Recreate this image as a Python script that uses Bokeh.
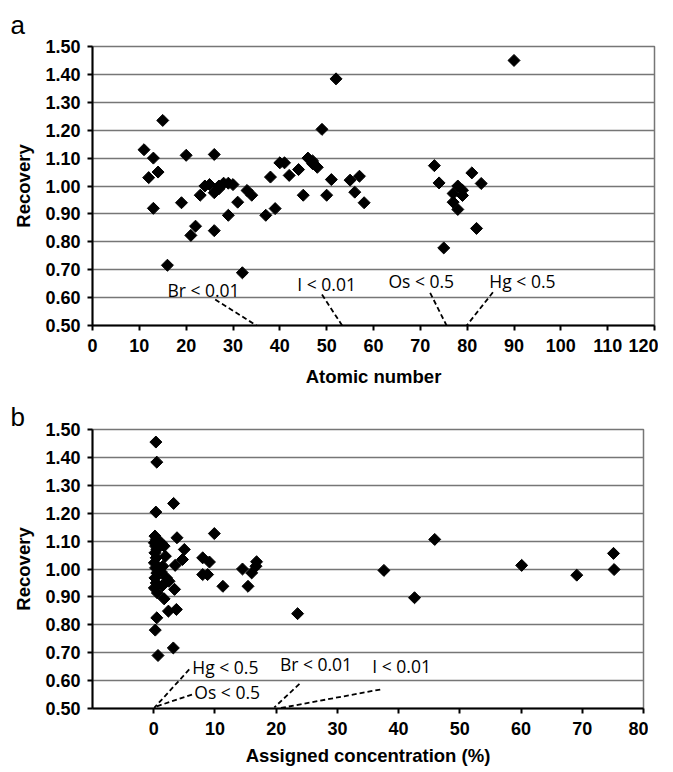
from bokeh.plotting import figure
from bokeh.layouts import column
from bokeh.models import Range1d, FixedTicker, NumeralTickFormatter
from bokeh.core.properties import value
from bokeh.embed import file_html
from bokeh.resources import INLINE

# ---- Panel a: recovery vs atomic number ----
atomic_number = [11, 12, 13, 13, 14, 15, 16, 19, 20, 21, 22, 23, 24, 25, 26, 26, 26, 27, 27,
                 28, 29, 29, 30, 31, 32, 33, 34, 37, 38, 39, 40, 41, 42, 44, 45, 46, 47, 47,
                 48, 49, 50, 51, 52, 55, 56, 57, 58, 73, 74, 75, 77, 77, 78, 78, 79, 79, 81,
                 82, 83, 90]
recovery_a = [1.13, 1.03, 1.10, 0.92, 1.05, 1.235, 0.716, 0.94, 1.11, 0.823, 0.856, 0.967,
              1.00, 1.005, 1.113, 0.84, 0.976, 0.99, 1.00, 1.01, 0.895, 1.01, 1.005, 0.942,
              0.689, 0.984, 0.967, 0.895, 1.032, 0.919, 1.083, 1.083, 1.038, 1.059, 0.967,
              1.10, 1.09, 1.08, 1.067, 1.203, 0.967, 1.023, 1.384, 1.021, 0.978, 1.035, 0.94,
              1.073, 1.011, 0.778, 0.973, 0.942, 1.00, 0.916, 0.985, 0.966, 1.047, 0.848,
              1.009, 1.45]

# ---- Panel b: recovery vs assigned concentration (%) ----
concentration = [0.35, 0.5, 0.35, 3.25, 3.8, 9.9, 5.0, 4.7, 3.5, 8.0, 9.1, 8.0, 8.8, 11.3,
                 14.5, 16.0, 16.7, 16.8, 15.4, 3.4, 1.7, 2.4, 3.7, 0.5, 0.25, 3.2, 0.7, 2.1,
                 2.5, 1.4, 1.2, 1.9, 1.7, 23.5, 37.6, 42.6, 45.9, 60.1, 69.1, 75.1, 75.2,
                 0.2, 0.4, 0.1, 0.3, 0.5, 0.2, 0.4, 0.1, 0.3, 0.5, 0.2, 0.4, 0.1, 0.6, 1.2, 1.5]
recovery_b = [1.455, 1.383, 1.204, 1.235, 1.112, 1.127, 1.07, 1.034, 1.013, 1.04, 1.025, 0.98,
              0.98, 0.938, 1.0, 0.986, 1.01, 1.026, 0.938, 0.927, 0.893, 0.849, 0.855, 0.825,
              0.781, 0.717, 0.69, 0.968, 0.956, 0.94, 1.094, 1.046, 1.082, 0.84, 0.995, 0.897,
              1.106, 1.013, 0.978, 1.056, 0.998,
              1.118, 1.106, 1.094, 1.082, 1.07, 1.058, 1.04, 1.022, 1.004, 0.986, 0.968, 0.95,
              0.932, 0.914, 0.99, 1.01]

x_ticks_a = [0, 10, 20, 30, 40, 50, 60, 70, 80, 90, 100, 110, 120]
x_ticks_b = [0, 10, 20, 30, 40, 50, 60, 70, 80]
y_ticks = [0.5, 0.6, 0.7, 0.8, 0.9, 1.0, 1.1, 1.2, 1.3, 1.4, 1.5]

# annotations (below detection limit)
notes_a = ["Br < 0.01", "I < 0.01", "Os < 0.5", "Hg < 0.5"]
notes_a_x = [23.7, 50.0, 70.2, 91.8]
notes_a_y = [0.629, 0.647, 0.659, 0.659]
leads_a = dict(x0=[26.2, 49.0, 72.1, 85.5], y0=[0.593, 0.611, 0.617, 0.619],
               x1=[35.0, 53.3, 75.6, 79.9], y1=[0.5, 0.5, 0.5, 0.5])

notes_b = ["Hg < 0.5", "Os < 0.5", "Br < 0.01", "I < 0.01"]
notes_b_x = [11.7, 12.0, 26.5, 40.5]
notes_b_y = [0.647, 0.558, 0.658, 0.652]
leads_b = dict(x0=[5.8, 6.25, 23.8, 37.0], y0=[0.640, 0.550, 0.588, 0.568],
               x1=[0.08, 0.25, 19.7, 20.3], y1=[0.502, 0.506, 0.504, 0.500])

AX_FONT = "Liberation Sans"
NOTE_FONT = "Open Sans"


def make_panel(xs, ys, xr, xticks, xlabel, notes, nx, ny, leads, letter, letter_offset,
               letter_standoff, fw, fh, bl, br, bt, bb, label_standoff):
    p = figure(frame_width=fw, frame_height=fh, x_range=Range1d(*xr), y_range=Range1d(0.5, 1.5),
               output_backend="svg", toolbar_location=None,
               min_border_left=bl, min_border_right=br, min_border_top=bt, min_border_bottom=bb)
    p.background_fill_color = "white"
    p.border_fill_color = "white"
    p.outline_line_color = "#767676"
    p.outline_line_width = 1.5
    p.xgrid.grid_line_color = None
    p.ygrid.grid_line_color = "#767676"
    p.ygrid.grid_line_width = 1.6
    p.xaxis.ticker = FixedTicker(ticks=xticks)
    p.yaxis.ticker = FixedTicker(ticks=y_ticks)
    p.yaxis.formatter = NumeralTickFormatter(format="0.00")
    for ax in (p.xaxis[0], p.yaxis[0]):
        ax.axis_line_color = "black"
        ax.axis_line_width = 2
        ax.major_tick_line_color = "black"
        ax.major_tick_line_width = 2
        ax.major_tick_in = 0
        ax.major_tick_out = 5
        ax.minor_tick_line_color = None
        ax.major_label_text_font = AX_FONT
        ax.major_label_text_font_style = "bold"
        ax.major_label_text_font_size = "18px"
        ax.major_label_text_color = "black"
        ax.axis_label_text_font = AX_FONT
        ax.axis_label_text_font_style = "bold"
        ax.axis_label_text_font_size = "18.5px"
        ax.axis_label_text_color = "black"
    p.xaxis.axis_label = xlabel
    p.yaxis.axis_label = "Recovery"
    p.xaxis.major_label_standoff = 8
    p.xaxis.axis_label_standoff = label_standoff
    p.yaxis.major_label_standoff = 7
    p.yaxis.axis_label_standoff = 8

    # panel letter as a left-aligned title pushed into the left margin
    p.title.text = letter
    p.title.align = "left"
    p.title.offset = letter_offset
    p.title.standoff = letter_standoff
    p.title.text_font = "Liberation Sans"
    p.title.text_font_style = "normal"
    p.title.text_font_size = "26px"
    p.title.text_color = "black"

    p.scatter(xs, ys, marker="square", angle=0.785398, size=8.5,
              fill_color="black", line_color="black")

    p.segment(x0=leads["x0"], y0=leads["y0"], x1=leads["x1"], y1=leads["y1"],
              line_color="black", line_width=1.8, line_dash="5 3")
    p.text(x=nx, y=ny, text=notes, text_font=value(NOTE_FONT), text_font_size="17.5px",
           text_align="center", text_baseline="middle", text_color="black")
    return p


pa = make_panel(atomic_number, recovery_a, (0, 120), x_ticks_a, "Atomic number",
                notes_a, notes_a_x, notes_a_y, leads_a, "a", -82, 14,
                562, 279, 91, 5, 46, 70, 11)
pb = make_panel(concentration, recovery_b, (-10, 80), x_ticks_b, "Assigned concentration (%)",
                notes_b, notes_b_x, notes_b_y, leads_b, "b", -82, -4,
                551, 279, 92, 5, 34, 59, 7)

layout = column(pa, pb, spacing=0)
open("out.html", "w").write(file_html(layout, INLINE))
